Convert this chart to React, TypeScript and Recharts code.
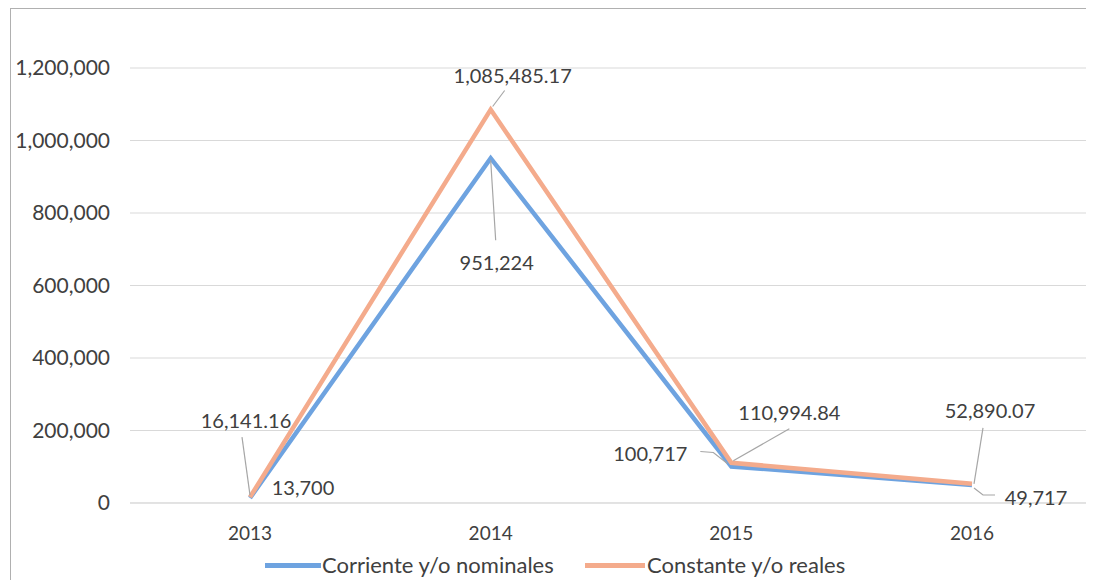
import React from "react";
import { LineChart, Line, XAxis, YAxis, CartesianGrid, LabelList } from "recharts";

const years = ["2013", "2014", "2015", "2016"];
const corriente = [13700, 951224, 100717, 49717];
const constante = [16141.16, 1085485.17, 110994.84, 52890.07];
const corrienteLabels = ["13,700", "951,224", "100,717", "49,717"];
const constanteLabels = ["16,141.16", "1,085,485.17", "110,994.84", "52,890.07"];
const yTicks = [0, 200000, 400000, 600000, 800000, 1000000, 1200000];

const data = years.map((y, i) => ({ year: y, corriente: corriente[i], constante: constante[i] }));

const FONT = "Lato, 'Open Sans', sans-serif";
const TEXT = "#404040";
const LEADER = "#a6a6a6";
const BLUE = "#6ea3e0";
const ORANGE = "#f4ab8c";

// label layout: text offset (dx, dy) and leader polyline relative to point
type Lay = { dx: number; dy: number; leader: number[][] };
const constanteLayout: Lay[] = [
  { dx: -4, dy: -77, leader: [[0, -2], [-8, -60]] },
  { dx: 22, dy: -35, leader: [[2, -3], [14, -19]] },
  { dx: 58, dy: -51, leader: [[2, -2], [58, -34]] },
  { dx: 18, dy: -74, leader: [[2, 0], [11, -56]] },
];
const corrienteLayout: Lay[] = [
  { dx: 53, dy: -11, leader: [] },
  { dx: 6, dy: 104, leader: [[0, 2], [5, 82]] },
  { dx: -81, dy: -13, leader: [[-31, -15], [-18, -14], [-4, -3]] },
  { dx: 64, dy: 12, leader: [[2, 3], [11, 10], [23, 10]] },
];

const makeLabel = (texts: string[], layout: Lay[]) => (props: any) => {
  const { x, y, index } = props;
  const l = layout[index];
  const pts = l.leader.map((p) => `${x + p[0]},${y + p[1]}`).join(" ");
  return (
    <g>
      {l.leader.length > 0 && (
        <polyline points={pts} fill="none" stroke={LEADER} strokeWidth={1.2} />
      )}
      <text
        x={x + l.dx}
        y={y + l.dy}
        textAnchor="middle"
        dominantBaseline="central"
        fontSize={20}
        fontFamily={FONT}
        fill={TEXT}
      >
        {texts[index]}
      </text>
    </g>
  );
};

const fmt = (v: number) => v.toLocaleString("en-US");

export default function App() {
  return (
    <div style={{ position: "relative", width: 1086, height: 572, fontFamily: FONT, background: "#fff" }}>
      <div style={{ position: "absolute", left: 2, top: 0, width: 1084, height: 572, borderLeft: "1px solid #b0b0b0", borderTop: "1px solid #b0b0b0", boxSizing: "border-box" }} />
      <LineChart
        width={1086}
        height={572}
        data={data}
        margin={{ top: 60, right: 0, left: 0, bottom: 32 }}
      >
        <CartesianGrid vertical={false} stroke="#d9d9d9" strokeWidth={1.2} />
        <XAxis
          dataKey="year"
          height={45}
          padding={{ left: 120, right: 122 }}
          tickLine={false}
          axisLine={{ stroke: "#d9d9d9" }}
          tick={{ fill: TEXT, fontSize: 19, fontFamily: FONT }}
          tickMargin={18}
        />
        <YAxis
          width={122}
          domain={[0, 1200000]}
          ticks={yTicks}
          tickFormatter={fmt}
          tickLine={false}
          axisLine={false}
          tick={{ fill: TEXT, fontSize: 21, fontFamily: FONT }}
          tickMargin={14}
        />
        <Line
          dataKey="corriente"
          stroke={BLUE}
          strokeWidth={4.5}
          dot={false}
          isAnimationActive={false}
        >
          <LabelList dataKey="corriente" content={makeLabel(corrienteLabels, corrienteLayout)} />
        </Line>
        <Line
          dataKey="constante"
          stroke={ORANGE}
          strokeWidth={4.5}
          dot={false}
          isAnimationActive={false}
        >
          <LabelList dataKey="constante" content={makeLabel(constanteLabels, constanteLayout)} />
        </Line>
      </LineChart>
      <div style={{ position: "absolute", top: 557, left: 257, width: 56, height: 5, marginTop: -2, background: BLUE }} />
      <div style={{ position: "absolute", top: 543, left: 314, fontSize: 22, lineHeight: "28px", color: TEXT, whiteSpace: "nowrap" }}>
        Corriente y/o nominales
      </div>
      <div style={{ position: "absolute", top: 557, left: 577, width: 60, height: 5, marginTop: -2, background: ORANGE }} />
      <div style={{ position: "absolute", top: 543, left: 639, fontSize: 22, lineHeight: "28px", color: TEXT, whiteSpace: "nowrap" }}>
        Constante y/o reales
      </div>
    </div>
  );
}
